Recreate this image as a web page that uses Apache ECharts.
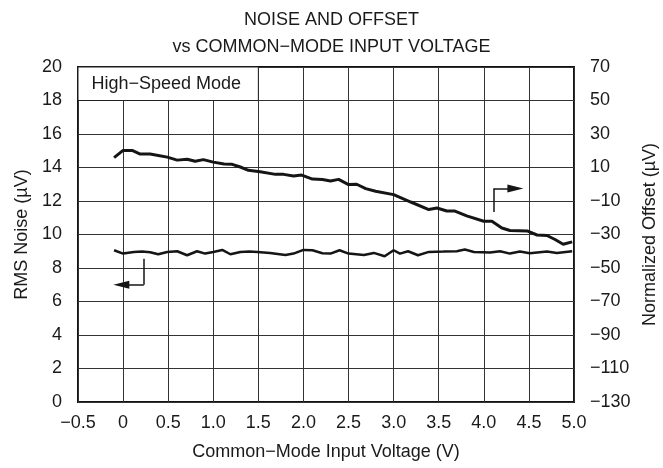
<!DOCTYPE html>
<html>
<head>
<meta charset="utf-8">
<script src="https://cdn.jsdelivr.net/npm/echarts@6/dist/echarts.min.js"></script>
<style>
html,body{margin:0;padding:0;background:#fff;}
#c{width:663px;height:468px;}
</style>
</head>
<body>
<div id="c"></div>
<script>
// ---- data ----
var xTicks = [-0.5, 0, 0.5, 1.0, 1.5, 2.0, 2.5, 3.0, 3.5, 4.0, 4.5, 5.0];
var offsetX = [-0.10, 0.00, 0.10, 0.19, 0.30, 0.39, 0.49, 0.60, 0.71, 0.80, 0.89, 1.00, 1.12, 1.21, 1.30, 1.39, 1.52, 1.69, 1.78, 1.89, 1.98, 2.10, 2.21, 2.30, 2.39, 2.50, 2.59, 2.69, 2.80, 3.00, 3.19, 3.39, 3.48, 3.59, 3.68, 3.81, 4.00, 4.09, 4.20, 4.29, 4.48, 4.59, 4.70, 4.79, 4.88, 4.98];
var offsetY = [15.9, 20.2, 20.2, 18.0, 18.0, 17.2, 16.2, 14.4, 14.9, 13.7, 14.7, 13.2, 12.1, 11.9, 10.3, 8.3, 7.5, 5.9, 5.9, 4.9, 5.5, 3.1, 2.8, 1.9, 2.9, -0.2, 0.0, -2.6, -4.2, -6.2, -10.6, -15.1, -14.2, -16.0, -16.0, -18.9, -22.1, -22.1, -26.1, -27.6, -27.9, -30.3, -30.6, -33.0, -35.8, -34.4];
var noiseX = [-0.10, 0.00, 0.12, 0.21, 0.30, 0.39, 0.49, 0.60, 0.71, 0.82, 0.91, 1.00, 1.10, 1.19, 1.30, 1.40, 1.49, 1.63, 1.80, 1.89, 2.00, 2.10, 2.21, 2.30, 2.40, 2.50, 2.67, 2.78, 2.90, 3.00, 3.07, 3.16, 3.27, 3.39, 3.55, 3.70, 3.79, 3.89, 4.07, 4.18, 4.29, 4.40, 4.51, 4.70, 4.81, 4.98];
var noiseY = [9.06, 8.86, 8.96, 8.98, 8.94, 8.82, 8.96, 9.00, 8.76, 9.00, 8.86, 8.96, 9.08, 8.82, 8.96, 8.98, 8.96, 8.90, 8.78, 8.86, 9.08, 9.06, 8.88, 8.86, 9.06, 8.86, 8.78, 8.90, 8.70, 9.06, 8.86, 9.00, 8.76, 8.96, 8.98, 9.00, 9.10, 8.96, 8.92, 9.00, 8.86, 8.98, 8.88, 8.98, 8.90, 9.00];
// annotation arrows (data coordinates)
var noiseArrow = {x: 0.23, yTop: 8.55, yBottom: 7.0, xTip: -0.02};
var offsetArrow = {x: 4.11, yBottom: -16.6, yTop: -2.6, xTip: 4.35};

function zip(a, b) { return a.map(function (v, i) { return [v, b[i]]; }); }
function fmt(v) {
  var s = (v === 0) ? '0' : v.toFixed(1);
  return s.replace('-', '\u2212');
}
var FONT = '"Liberation Sans", Arial, Helvetica, sans-serif';
var TXT = '#1a1a1a';
var FS = 18;

var chart = echarts.init(document.getElementById('c'), null, {renderer: 'canvas'});
chart.setOption({
  animation: false,
  backgroundColor: '#fff',
  textStyle: {fontFamily: FONT},
  title: {
    text: 'NOISE AND OFFSET\nvs COMMON\u2212MODE INPUT VOLTAGE',
    left: 'center',
    top: 2,
    textStyle: {fontFamily: FONT, fontSize: FS, fontWeight: 'normal', color: TXT, lineHeight: 27}
  },
  grid: {left: 78, right: 89, top: 67, bottom: 66, show: true, borderColor: '#111', borderWidth: 2, containLabel: false, outerBoundsMode: 'none'},
  xAxis: {
    type: 'value', min: -0.5, max: 5.0, interval: 0.5,
    name: 'Common\u2212Mode Input Voltage (V)', nameLocation: 'middle', nameGap: 41,
    nameTextStyle: {fontFamily: FONT, fontSize: FS, color: TXT},
    axisLine: {show: false}, axisTick: {show: false},
    axisLabel: {fontFamily: FONT, fontSize: FS, color: TXT, margin: 12, formatter: function (v) { return fmt(v); }},
    splitLine: {show: true, lineStyle: {color: '#333', width: 1}}
  },
  yAxis: [{
    type: 'value', min: 0, max: 20, interval: 2, position: 'left',
    name: 'RMS Noise (\u00b5V)', nameLocation: 'middle', nameGap: 46, nameRotate: 90,
    nameTextStyle: {fontFamily: FONT, fontSize: FS, color: TXT},
    axisLine: {show: false}, axisTick: {show: false},
    axisLabel: {fontFamily: FONT, fontSize: FS, color: TXT, margin: 16},
    splitLine: {show: true, lineStyle: {color: '#333', width: 1}}
  }, {
    type: 'value', min: -130, max: 70, interval: 20, position: 'right',
    name: 'Normalized Offset (\u00b5V)', nameLocation: 'middle', nameGap: 57, nameRotate: 90,
    nameTextStyle: {fontFamily: FONT, fontSize: FS, color: TXT},
    axisLine: {show: false}, axisTick: {show: false},
    axisLabel: {fontFamily: FONT, fontSize: FS, color: TXT, margin: 16, formatter: function (v) { return String(v).replace('-', '\u2212'); }},
    splitLine: {show: false}
  }],
  series: [{
    name: 'RMS Noise', type: 'line', yAxisIndex: 0, data: zip(noiseX, noiseY),
    showSymbol: false, symbol: 'none', silent: true,
    lineStyle: {color: '#151515', width: 2.5},
    markArea: {
      silent: true,
      itemStyle: {color: '#fff', borderColor: '#222', borderWidth: 1},
      label: {show: true, position: 'insideLeft', distance: 14, fontFamily: FONT, fontSize: FS, color: TXT, formatter: 'High\u2212Speed Mode'},
      data: [[{coord: [-0.5, 20]}, {coord: [1.5, 18]}]]
    },
    markLine: {
      silent: true, animation: false,
      label: {show: false},
      lineStyle: {color: '#151515', width: 1.5, type: 'solid'},
      symbolSize: [8, 16],
      data: [
        [{coord: [noiseArrow.x, noiseArrow.yTop], symbol: 'none'}, {coord: [noiseArrow.x, noiseArrow.yBottom], symbol: 'none'}],
        [{coord: [noiseArrow.x, noiseArrow.yBottom], symbol: 'none'}, {coord: [noiseArrow.xTip, noiseArrow.yBottom], symbol: 'triangle'}]
      ]
    }
  }, {
    name: 'Normalized Offset', type: 'line', yAxisIndex: 1, data: zip(offsetX, offsetY),
    showSymbol: false, symbol: 'none', silent: true,
    lineStyle: {color: '#151515', width: 3},
    markLine: {
      silent: true, animation: false,
      label: {show: false},
      lineStyle: {color: '#151515', width: 1.5, type: 'solid'},
      symbolSize: [8, 16],
      data: [
        [{coord: [offsetArrow.x, offsetArrow.yBottom], symbol: 'none'}, {coord: [offsetArrow.x, offsetArrow.yTop], symbol: 'none'}],
        [{coord: [offsetArrow.x, offsetArrow.yTop], symbol: 'none'}, {coord: [offsetArrow.xTip, offsetArrow.yTop], symbol: 'triangle'}]
      ]
    }
  }]
});
</script>
</body>
</html>
